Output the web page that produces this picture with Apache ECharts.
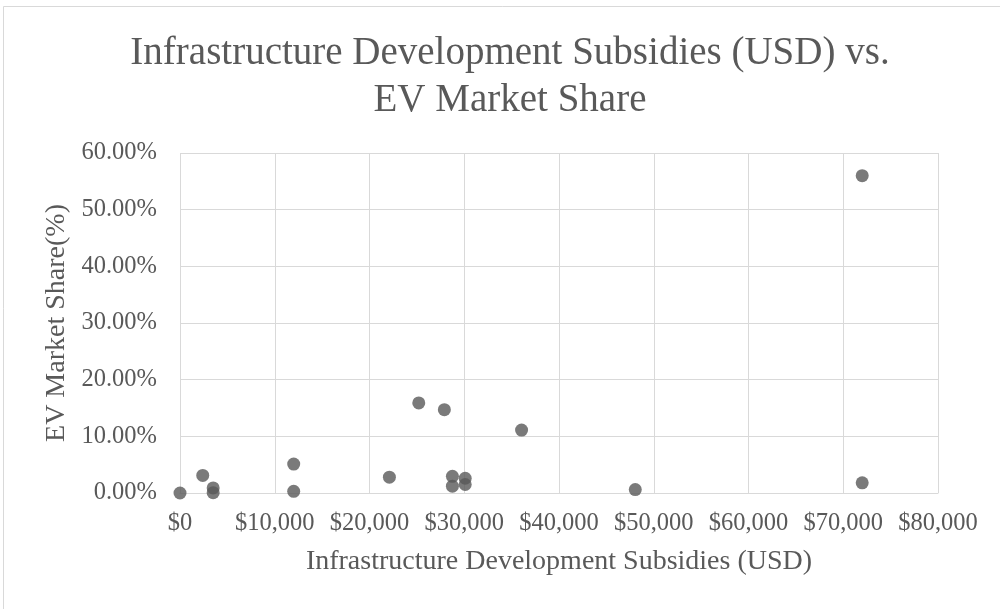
<!DOCTYPE html>
<html>
<head>
<meta charset="utf-8">
<script src="https://cdn.jsdelivr.net/npm/echarts@6/dist/echarts.min.js"></script>
<style>html,body{margin:0;padding:0;background:#fff}#c{width:1000px;height:609px}</style>
</head>
<body>
<div id="c"></div>
<script>
const titleLines = ['Infrastructure Development Subsidies (USD) vs.', 'EV Market Share'];
const xAxisTitle = 'Infrastructure Development Subsidies (USD)';
const yAxisTitle = 'EV Market Share(%)';
const subsidiesUSD = [0, 2400, 3500, 3500, 12000, 12000, 22100, 25200, 27900, 28750, 28750, 30100, 30100, 36050, 48050, 72000, 72000];
const evShare = [0.000, 0.031, 0.009, 0.0005, 0.051, 0.003, 0.028, 0.159, 0.147, 0.0295, 0.012, 0.026, 0.015, 0.111, 0.006, 0.018, 0.560];
const xTicks = {min: 0, max: 80000, interval: 10000};
const yTicks = {min: 0, max: 0.6, interval: 0.1};

const points = subsidiesUSD.map((x, i) => [x, evShare[i]]);
const FONT = 'Liberation Serif';
const TXT = '#595959';
const chart = echarts.init(document.getElementById('c'), null, {renderer: 'canvas'});
chart.setOption({
  animation: false,
  backgroundColor: '#fff',
  graphic: [{type: 'rect', shape: {x: 3.5, y: 6.5, width: 1010, height: 620}, style: {fill: 'none', stroke: '#d9d9d9', lineWidth: 1}, silent: true}],
  title: {
    text: titleLines.join('\n'),
    left: 505, top: 25, textAlign: 'center',
    textStyle: {fontFamily: FONT, fontSize: 39, fontWeight: 'normal', color: TXT, lineHeight: 47}
  },
  grid: {left: 180, right: 62, top: 153, bottom: 116, containLabel: false},
  xAxis: {
    type: 'value', min: xTicks.min, max: xTicks.max, interval: xTicks.interval,
    name: xAxisTitle, nameLocation: 'middle', nameGap: 55,
    nameTextStyle: {fontFamily: FONT, fontSize: 28, color: TXT},
    axisLine: {show: true, lineStyle: {color: '#d9d9d9', width: 1}},
    axisTick: {show: false},
    splitLine: {show: true, lineStyle: {color: '#d9d9d9', width: 1}},
    axisLabel: {fontFamily: FONT, fontSize: 24.5, color: TXT, margin: 18,
      formatter: v => '$' + v.toLocaleString('en-US')}
  },
  yAxis: {
    type: 'value', min: yTicks.min, max: yTicks.max, interval: yTicks.interval,
    name: yAxisTitle, nameLocation: 'middle', nameGap: 108, nameRotate: 90,
    nameTextStyle: {fontFamily: FONT, fontSize: 28, color: TXT},
    axisLine: {show: false},
    axisTick: {show: false},
    splitLine: {show: true, lineStyle: {color: '#d9d9d9', width: 1}},
    axisLabel: {fontFamily: FONT, fontSize: 24.5, color: TXT, margin: 23,
      formatter: v => (v * 100).toFixed(2) + '%'}
  },
  series: [{
    type: 'scatter', data: points, symbol: 'circle', symbolSize: 13,
    itemStyle: {color: '#595959'}
  }]
});
</script>
</body>
</html>
